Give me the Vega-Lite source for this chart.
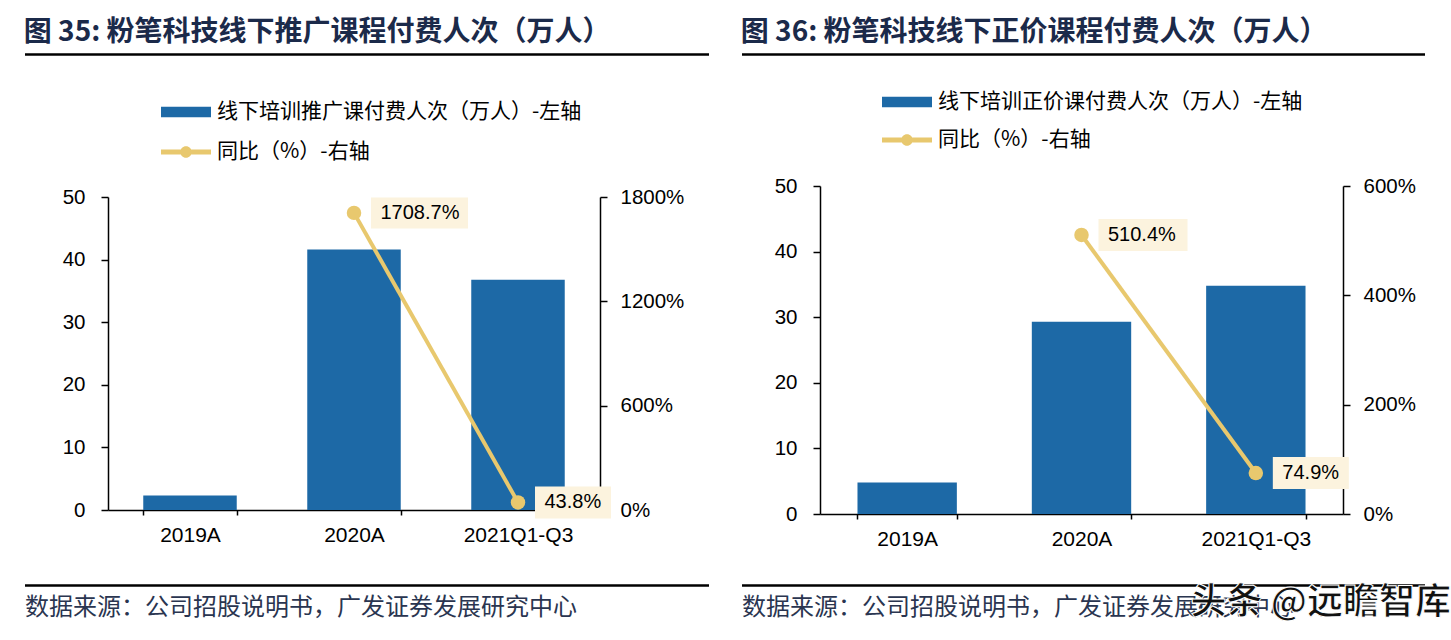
{
  "$schema": "https://vega.github.io/schema/vega-lite/v6.json",
  "background": "white",
  "padding": {"left": 23, "top": 19, "right": 0, "bottom": 0},
  "config": {"view": {"stroke": null}},
  "spacing": 29,
  "resolve": {"scale": {"fill": "independent", "stroke": "independent"}, "legend": {"fill": "independent", "stroke": "independent"}},
  "hconcat": [
    {
      "spacing": 39,
      "resolve": {"scale": {"fill": "independent", "stroke": "independent"}, "legend": {"fill": "independent", "stroke": "independent"}},
      "vconcat": [
        {
          "spacing": 31,
          "resolve": {"scale": {"fill": "independent", "stroke": "independent"}, "legend": {"fill": "independent", "stroke": "independent"}},
          "vconcat": [
            {
              "width": 601,
              "height": 1,
              "data": {"values": [{}]},
              "title": {"text": "图 35: 粉笔科技线下推广课程付费人次（万人）", "anchor": "start", "frame": "bounds", "fontSize": 28, "font": "Noto Sans CJK SC", "fontWeight": "bold", "color": "#1b2a4a", "offset": 6},
              "mark": {"type": "rule", "strokeWidth": 2.5, "color": "black", "clip": false},
              "encoding": {
                "x": {"datum": -0.1381, "type": "quantitative", "scale": {"domain": [0, 1], "clamp": false}, "axis": null},
                "x2": {"datum": 1}
              }
            },
            {
              "width": 492,
              "height": 313,
              "data": {"values": [
                {"cat": "2019A", "count": 2.3, "yoy": null},
                {"cat": "2020A", "count": 41.6, "yoy": 17.087},
                {"cat": "2021Q1-Q3", "count": 36.8, "yoy": 0.438}
              ]},
              "encoding": {
                "x": {"field": "cat", "type": "nominal", "sort": null,
                  "scale": {"paddingInner": 0.43, "paddingOuter": 0.215},
                  "axis": {"title": null, "labelAngle": 0, "labelFontSize": 21, "labelFont": "Liberation Sans", "labelColor": "black", "domainColor": "black", "domainWidth": 1.5, "tickColor": "black", "tickWidth": 1.5, "tickSize": 5, "tickBand": "extent", "labelPadding": 9, "grid": false}}
              },
              "layer": [
                {
                  "mark": {"type": "bar"},
                  "encoding": {
                    "y": {"field": "count", "type": "quantitative", "scale": {"domain": [0, 50]},
                      "axis": {"title": null, "values": [0, 10, 20, 30, 40, 50], "labelFontSize": 20.5, "labelFont": "Liberation Sans", "labelColor": "black", "domainColor": "black", "domainWidth": 1.5, "tickColor": "black", "tickWidth": 1.5, "tickSize": 7, "labelPadding": 16, "grid": false}},
                    "fill": {"datum": "线下培训推广课付费人次（万人）-左轴", "scale": {"range": ["#1d69a6"]},
                      "legend": {"title": null, "orient": "none", "legendX": 53, "legendY": -110, "symbolType": "M-1,-0.21H1V0.21H-1Z", "symbolSize": 2500, "symbolStrokeWidth": 0, "labelFont": "Noto Sans CJK SC", "labelFontSize": 21, "labelColor": "black", "labelOffset": 6, "labelLimit": 1000, "padding": 0}}
                  }
                },
                {
                  "transform": [{"filter": "datum.yoy != null"}],
                  "encoding": {
                    "y": {"field": "yoy", "type": "quantitative", "scale": {"domain": [0, 18]},
                      "axis": {"orient": "right", "title": null, "values": [0, 6, 12, 18], "format": ".0%", "labelFontSize": 20.5, "labelFont": "Liberation Sans", "labelColor": "black", "domainColor": "black", "domainWidth": 1.5, "tickColor": "black", "tickWidth": 1.5, "tickSize": 7, "labelPadding": 13, "grid": false}}
                  },
                  "layer": [
                    {
                      "mark": {"type": "line", "strokeWidth": 4},
                      "encoding": {
                        "stroke": {"datum": "同比（%）-右轴", "scale": {"range": ["#e8c86e"]},
                          "legend": {"title": null, "orient": "none", "legendX": 53, "legendY": -70, "symbolType": "M-1,-0.1H1V0.1H-1Z M-0.23,0 A0.23,0.23 0 0,1 0.23,0 A0.23,0.23 0 0,1 -0.23,0Z", "symbolSize": 2500, "labelFont": "Noto Sans CJK SC", "labelFontSize": 21, "labelColor": "black", "labelOffset": 6, "labelLimit": 1000, "padding": 0,
                            "encode": {"symbols": {"update": {"fill": {"value": "#e8c86e"}, "strokeWidth": {"value": 0}}}}}}
                      }
                    },
                    {"mark": {"type": "point", "filled": true, "size": 210, "opacity": 1, "color": "#e8c86e"}},
                    {
                      "transform": [{"filter": "datum.cat === '2020A'"}],
                      "mark": {"type": "point", "filled": true, "opacity": 1, "color": "#fcf3de", "shape": "M-1,-0.3196H1V0.3196H-1Z", "size": 9409, "xOffset": 65.5}
                    },
                    {
                      "transform": [{"filter": "datum.cat === '2021Q1-Q3'"}],
                      "mark": {"type": "point", "filled": true, "opacity": 1, "color": "#fcf3de", "shape": "M-1,-0.421H1V0.421H-1Z", "size": 5776, "xOffset": 55}
                    },
                    {
                      "mark": {"type": "text", "align": "left", "baseline": "middle", "dx": 26.5, "fontSize": 20, "font": "Liberation Sans", "color": "black"},
                      "encoding": {"text": {"field": "yoy", "format": ".1%"}}
                    }
                  ]
                }
              ],
              "resolve": {"scale": {"y": "independent"}}
            }
          ]
        },
        {
          "width": 601,
          "height": 1,
          "data": {"values": [{}]},
          "encoding": {
            "x": {"datum": -0.1381, "type": "quantitative", "scale": {"domain": [0, 1], "clamp": false}, "axis": null}
          },
          "layer": [
            {
              "mark": {"type": "rule", "strokeWidth": 2.5, "color": "black", "clip": false},
              "encoding": {"x2": {"datum": 1}}
            },
            {
              "mark": {"type": "text", "align": "left", "baseline": "middle", "dy": 22.5, "fontSize": 24, "font": "Noto Sans CJK SC", "color": "#2a3550"},
              "encoding": {"text": {"value": "数据来源：公司招股说明书，广发证券发展研究中心"}}
            }
          ]
        }
      ]
    },
    {
      "spacing": 35,
      "resolve": {"scale": {"fill": "independent", "stroke": "independent"}, "legend": {"fill": "independent", "stroke": "independent"}},
      "vconcat": [
        {
          "spacing": 21,
          "resolve": {"scale": {"fill": "independent", "stroke": "independent"}, "legend": {"fill": "independent", "stroke": "independent"}},
          "vconcat": [
            {
              "width": 605,
              "height": 1,
              "data": {"values": [{}]},
              "title": {"text": "图 36: 粉笔科技线下正价课程付费人次（万人）", "anchor": "start", "frame": "bounds", "fontSize": 28, "font": "Noto Sans CJK SC", "fontWeight": "bold", "color": "#1b2a4a", "offset": 6},
              "mark": {"type": "rule", "strokeWidth": 2.5, "color": "black", "clip": false},
              "encoding": {
                "x": {"datum": -0.1289, "type": "quantitative", "scale": {"domain": [0, 1], "clamp": false}, "axis": null},
                "x2": {"datum": 1}
              }
            },
            {
              "width": 523,
              "height": 328,
              "data": {"values": [
                {"cat": "2019A", "count": 4.8, "yoy": null},
                {"cat": "2020A", "count": 29.3, "yoy": 5.104},
                {"cat": "2021Q1-Q3", "count": 34.8, "yoy": 0.749}
              ]},
              "encoding": {
                "x": {"field": "cat", "type": "nominal", "sort": null,
                  "scale": {"paddingInner": 0.43, "paddingOuter": 0.215},
                  "axis": {"title": null, "labelAngle": 0, "labelFontSize": 21, "labelFont": "Liberation Sans", "labelColor": "black", "domainColor": "black", "domainWidth": 1.5, "tickColor": "black", "tickWidth": 1.5, "tickSize": 5, "tickBand": "extent", "labelPadding": 9, "grid": false}}
              },
              "layer": [
                {
                  "mark": {"type": "bar"},
                  "encoding": {
                    "y": {"field": "count", "type": "quantitative", "scale": {"domain": [0, 50]},
                      "axis": {"title": null, "values": [0, 10, 20, 30, 40, 50], "labelFontSize": 20.5, "labelFont": "Liberation Sans", "labelColor": "black", "domainColor": "black", "domainWidth": 1.5, "tickColor": "black", "tickWidth": 1.5, "tickSize": 7, "labelPadding": 16, "grid": false}},
                    "fill": {"datum": "线下培训正价课付费人次（万人）-左轴", "scale": {"range": ["#1d69a6"]},
                      "legend": {"title": null, "orient": "none", "legendX": 62, "legendY": -109, "symbolType": "M-1,-0.21H1V0.21H-1Z", "symbolSize": 2500, "symbolStrokeWidth": 0, "labelFont": "Noto Sans CJK SC", "labelFontSize": 21, "labelColor": "black", "labelOffset": 6, "labelLimit": 1000, "padding": 0}}
                  }
                },
                {
                  "transform": [{"filter": "datum.yoy != null"}],
                  "encoding": {
                    "y": {"field": "yoy", "type": "quantitative", "scale": {"domain": [0, 6]},
                      "axis": {"orient": "right", "title": null, "values": [0, 2, 4, 6], "format": ".0%", "labelFontSize": 20.5, "labelFont": "Liberation Sans", "labelColor": "black", "domainColor": "black", "domainWidth": 1.5, "tickColor": "black", "tickWidth": 1.5, "tickSize": 7, "labelPadding": 13, "grid": false}}
                  },
                  "layer": [
                    {
                      "mark": {"type": "line", "strokeWidth": 4},
                      "encoding": {
                        "stroke": {"datum": "同比（%）-右轴", "scale": {"range": ["#e8c86e"]},
                          "legend": {"title": null, "orient": "none", "legendX": 62, "legendY": -71, "symbolType": "M-1,-0.1H1V0.1H-1Z M-0.23,0 A0.23,0.23 0 0,1 0.23,0 A0.23,0.23 0 0,1 -0.23,0Z", "symbolSize": 2500, "labelFont": "Noto Sans CJK SC", "labelFontSize": 21, "labelColor": "black", "labelOffset": 6, "labelLimit": 1000, "padding": 0,
                            "encode": {"symbols": {"update": {"fill": {"value": "#e8c86e"}, "strokeWidth": {"value": 0}}}}}}
                      }
                    },
                    {"mark": {"type": "point", "filled": true, "size": 210, "opacity": 1, "color": "#e8c86e"}},
                    {
                      "transform": [{"filter": "datum.cat === '2020A'"}],
                      "mark": {"type": "point", "filled": true, "opacity": 1, "color": "#fcf3de", "shape": "M-1,-0.3596H1V0.3596H-1Z", "size": 7921, "xOffset": 61.5}
                    },
                    {
                      "transform": [{"filter": "datum.cat === '2021Q1-Q3'"}],
                      "mark": {"type": "point", "filled": true, "opacity": 1, "color": "#fcf3de", "shape": "M-1,-0.421H1V0.421H-1Z", "size": 5776, "xOffset": 55}
                    },
                    {
                      "mark": {"type": "text", "align": "left", "baseline": "middle", "dx": 26.5, "fontSize": 20, "font": "Liberation Sans", "color": "black"},
                      "encoding": {"text": {"field": "yoy", "format": ".1%"}}
                    }
                  ]
                }
              ],
              "resolve": {"scale": {"y": "independent"}}
            }
          ]
        },
        {
          "width": 605,
          "height": 1,
          "data": {"values": [{}]},
          "encoding": {
            "x": {"datum": -0.1289, "type": "quantitative", "scale": {"domain": [0, 1], "clamp": false}, "axis": null}
          },
          "layer": [
            {
              "mark": {"type": "rule", "strokeWidth": 2.5, "color": "black", "clip": false},
              "encoding": {"x2": {"datum": 1}}
            },
            {
              "mark": {"type": "text", "align": "left", "baseline": "middle", "dy": 22.5, "fontSize": 24, "font": "Noto Sans CJK SC", "color": "#2a3550"},
              "encoding": {"text": {"value": "数据来源：公司招股说明书，广发证券发展研究中心"}}
            },
            {
              "mark": {"type": "text", "align": "right", "baseline": "middle", "dx": 26, "dy": 17, "fontSize": 36, "font": "Noto Sans CJK SC", "fontWeight": "bold", "color": "#111111", "stroke": "white", "strokeWidth": 1},
              "encoding": {"x": {"datum": 1, "type": "quantitative"}, "text": {"value": "头条 @远瞻智库"}}
            }
          ]
        }
      ]
    }
  ]
}
